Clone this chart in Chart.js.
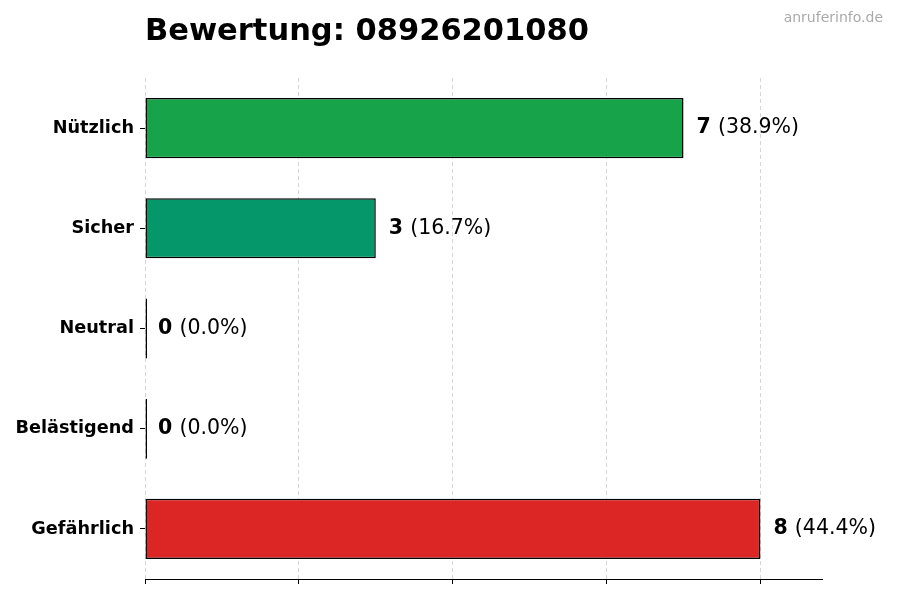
<!DOCTYPE html>
<html>
<head>
<meta charset="utf-8">
<script src="https://cdn.jsdelivr.net/npm/chart.js@4.4.1/dist/chart.umd.min.js"></script>
<style>
  html, body { margin: 0; padding: 0; background: #fff; }
  #wrap { width: 900px; height: 600px; }
</style>
</head>
<body>
<div id="wrap"><canvas id="bewertungChart" width="900" height="600"></canvas></div>
<script>
document.addEventListener('DOMContentLoaded', function() {
    "use strict";

    var categories = ['Nützlich', 'Sicher', 'Neutral', 'Belästigend', 'Gefährlich'];
    var counts = [7, 3, 0, 0, 8];
    var barColors = ['#16a34a', '#059669', '#6b7280', '#f59e0b', '#dc2626'];
    var xTicks = [0, 2, 4, 6, 8];
    var chartTitle = 'Bewertung: 08926201080';
    var watermark = 'anruferinfo.de';

    var total = counts.reduce(function(a, b) { return a + b; }, 0);
    var FONT = "'DejaVu Sans', sans-serif";

    /* title + watermark */
    var headerPlugin = {
        id: 'header',
        afterDraw: function(chart) {
            var c = chart.ctx;
            c.save();
            c.fillStyle = '#000';
            c.font = 'bold 30.5px ' + FONT;
            c.textAlign = 'left';
            c.textBaseline = 'alphabetic';
            c.fillText(chartTitle, chart.chartArea.left, 40);
            c.fillStyle = '#aaaaaa';
            c.font = '14px ' + FONT;
            c.textAlign = 'right';
            c.fillText(watermark, 883, 22);
            c.restore();
        }
    };

    /* value labels at the end of every bar */
    var valueLabels = {
        id: 'valueLabels',
        afterDatasetsDraw: function(chart) {
            var c = chart.ctx;
            var meta = chart.getDatasetMeta(0);
            c.save();
            c.textBaseline = 'middle';
            c.textAlign = 'left';
            c.fillStyle = '#000';
            meta.data.forEach(function(bar, i) {
                var x = chart.scales.x.getPixelForValue(counts[i]) + 13;
                var pct = total ? (counts[i] / total * 100).toFixed(1) : '0.0';
                c.font = 'bold 20.5px ' + FONT;
                var v = String(counts[i]);
                c.fillText(v, x, bar.y);
                var w = c.measureText(v + ' ').width;
                c.font = '20.5px ' + FONT;
                c.fillText('(' + pct + '%)', x + w, bar.y);
            });
            c.restore();
        }
    };

    var ctx = document.getElementById('bewertungChart').getContext('2d');
    new Chart(ctx, {
        type: 'bar',
        data: {
            labels: categories,
            datasets: [{
                data: counts,
                backgroundColor: barColors,
                borderColor: '#000',
                borderWidth: 1.5,
                borderSkipped: false,
                minBarLength: 2,
                barPercentage: 0.6,
                categoryPercentage: 1.0
            }]
        },
        options: {
            indexAxis: 'y',
            responsive: false,
            animation: false,
            layout: { padding: { top: 78, right: 78, bottom: 16, left: 0 } },
            plugins: {
                legend: { display: false },
                tooltip: { enabled: false }
            },
            scales: {
                x: {
                    type: 'linear',
                    min: 0,
                    max: 8.8,
                    z: 1,
                    afterBuildTicks: function(axis) {
                        axis.ticks = xTicks.map(function(v) { return { value: v }; });
                    },
                    ticks: { display: false },
                    grid: {
                        color: 'rgba(0,0,0,0.16)',
                        tickColor: '#000',
                        tickLength: 5,
                        tickBorderDash: []
                    },
                    border: { display: true, color: '#000', width: 1, dash: [4, 3] }
                },
                y: {
                    afterFit: function(s) { s.width = 145; },
                    ticks: {
                        color: '#000',
                        padding: 6,
                        font: { family: FONT, size: 17.7, weight: 'bold' }
                    },
                    grid: {
                        offset: false,
                        drawOnChartArea: false,
                        tickColor: '#000',
                        tickLength: 5
                    },
                    border: { display: false }
                }
            }
        },
        plugins: [valueLabels, headerPlugin]
    });
});
</script>
</body>
</html>
